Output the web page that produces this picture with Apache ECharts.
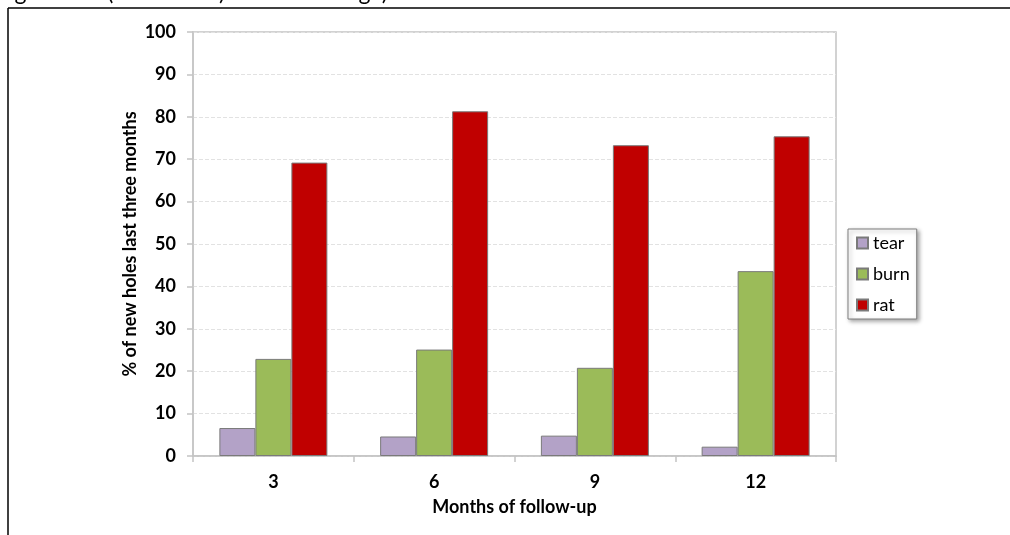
<!DOCTYPE html>
<html>
<head>
<meta charset="utf-8">
<script src="https://cdn.jsdelivr.net/npm/echarts@6/dist/echarts.min.js"></script>
<style>
  html, body { margin: 0; padding: 0; background: #fff; }
  #chart { width: 1010px; height: 535px; }
</style>
</head>
<body>
<div id="chart"></div>
<script>
// Share of new holes in the last three months, by cause, at each follow-up visit
const months = ['3', '6', '9', '12'];
const tear = [6.6, 4.6, 4.8, 2.2];
const burn = [22.9, 25.1, 20.8, 43.6];
const rat = [69.2, 81.3, 73.3, 75.4];

const FONT = 'Lato, "Open Sans", "Noto Sans", sans-serif';
const barBorder = { borderColor: '#7a7a7a', borderWidth: 1 };

const chart = echarts.init(document.getElementById('chart'), null, { renderer: 'canvas' });

chart.setOption({
  animation: false,
  backgroundColor: '#ffffff',
  textStyle: { fontFamily: FONT },
  graphic: [
    // caption line running above the figure frame
    {
      type: 'text', left: -1, top: -19, silent: true,
      style: { text: 'significant (burn holes) rodent damage).', font: '23px ' + FONT, fill: '#000' }
    },
    // figure frame
    { type: 'line', shape: { x1: 8, y1: 8, x2: 1010, y2: 8 }, style: { stroke: '#000', lineWidth: 1.5 } },
    { type: 'line', shape: { x1: 8, y1: 8, x2: 8, y2: 535 }, style: { stroke: '#000', lineWidth: 1.5 } }
  ],
  grid: {
    left: 193, right: 174, top: 32, bottom: 79,
    show: true, borderColor: '#c4c4c4', borderWidth: 1.5, backgroundColor: 'transparent'
  },
  legend: {
    orient: 'vertical',
    left: 848, top: 229,
    padding: [5, 7, 5, 8],
    itemGap: 13,
    itemWidth: 11, itemHeight: 11,
    icon: 'rect',
    backgroundColor: '#fff',
    borderColor: '#7f7f7f', borderWidth: 1,
    shadowColor: 'rgba(0,0,0,0.35)', shadowBlur: 4, shadowOffsetX: 2, shadowOffsetY: 2,
    textStyle: { fontSize: 18, color: '#000', fontFamily: FONT, lineHeight: 18 },
    data: ['tear', 'burn', 'rat']
  },
  xAxis: {
    type: 'category',
    data: months,
    name: 'Months of follow-up',
    nameLocation: 'middle',
    nameGap: 42,
    nameMoveOverlap: false,
    nameTextStyle: { fontSize: 18, fontWeight: 'bold', color: '#000', fontFamily: FONT },
    axisLine: { lineStyle: { color: '#c4c4c4', width: 1.5 } },
    axisTick: { show: true, length: 6, lineStyle: { color: '#c4c4c4', width: 1.5 } },
    axisLabel: { fontSize: 18, fontWeight: 'bold', color: '#000', margin: 17, fontFamily: FONT },
    splitLine: { show: false }
  },
  yAxis: {
    type: 'value',
    min: 0, max: 100, interval: 10,
    name: '% of new holes last three months',
    nameLocation: 'middle',
    nameGap: 54,
    nameMoveOverlap: false,
    nameTextStyle: { fontSize: 18, fontWeight: 'bold', color: '#000', fontFamily: FONT },
    axisLine: { show: true, lineStyle: { color: '#c4c4c4', width: 1.5 } },
    axisTick: { show: true, length: 6, lineStyle: { color: '#c4c4c4', width: 1.5 } },
    axisLabel: { fontSize: 18, fontWeight: 'bold', color: '#000', margin: 17, fontFamily: FONT },
    splitLine: { show: true, lineStyle: { color: '#e2e2e2', type: 'dashed', width: 1 } }
  },
  series: [
    { name: 'tear', type: 'bar', data: tear, barWidth: 36, barGap: '0%',
      itemStyle: Object.assign({ color: '#b3a2c7' }, barBorder) },
    { name: 'burn', type: 'bar', data: burn, barWidth: 36, barGap: '0%',
      itemStyle: Object.assign({ color: '#9bbb59' }, barBorder) },
    { name: 'rat', type: 'bar', data: rat, barWidth: 36, barGap: '0%',
      itemStyle: Object.assign({ color: '#c00000' }, barBorder) }
  ]
});
</script>
</body>
</html>
